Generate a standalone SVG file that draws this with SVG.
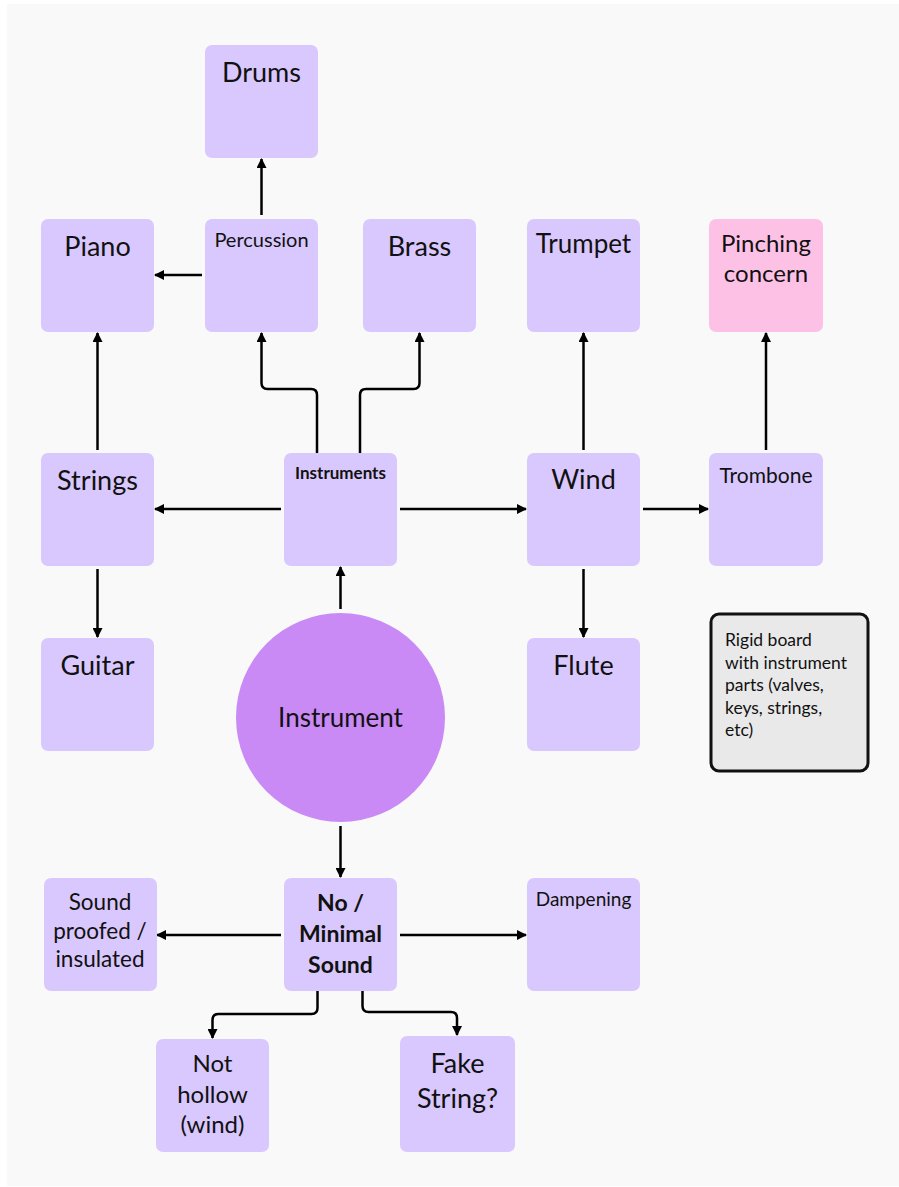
<svg xmlns="http://www.w3.org/2000/svg" width="899" height="1187" viewBox="0 0 899 1187">
  <defs>
    <marker id="arrow" viewBox="0 0 10 10" refX="9" refY="5" markerWidth="4" markerHeight="4" markerUnits="strokeWidth" orient="auto">
      <path d="M0,0 L10,5 L0,10 Z" fill="#000"/>
    </marker>
    <style>
      .box { fill: #d9c8fd; }
      .alert { fill: #fec1e6; }
      .hub { fill: #c98af6; }
      .note { fill: #e9e9e9; stroke: #111; stroke-width: 3; }
      .edge { fill: none; stroke: #000; stroke-width: 2.5; marker-end: url(#arrow); }
      text { font-family: "Lato", "Noto Sans", sans-serif; fill: #111; text-anchor: middle; }
      .lg { font-size: 27px; }
      .md { font-size: 24px; }
      .sm { font-size: 20px; }
      .b { font-weight: bold; }
      .nt { font-size: 17.5px; text-anchor: start; }
    </style>
  </defs>

  <rect x="0" y="0" width="899" height="1187" fill="#ffffff"/>
  <rect x="7" y="4" width="892" height="1182" fill="#f9f9f9"/>

  <g id="connectors">
    <line class="edge" x1="261.5" y1="215" x2="261.5" y2="159"/>
    <line class="edge" x1="202" y1="275" x2="155" y2="275"/>
    <line class="edge" x1="97.5" y1="450" x2="97.5" y2="333"/>
    <path class="edge" d="M317,453 V395 Q317,389 311,389 H267.5 Q261.5,389 261.5,383 V333"/>
    <path class="edge" d="M360,453 V395 Q360,389 366,389 H413.5 Q419.5,389 419.5,383 V333"/>
    <line class="edge" x1="281" y1="509" x2="155" y2="509"/>
    <line class="edge" x1="400" y1="509" x2="526" y2="509"/>
    <line class="edge" x1="583.5" y1="450" x2="583.5" y2="333"/>
    <line class="edge" x1="643" y1="509" x2="708" y2="509"/>
    <line class="edge" x1="766" y1="450" x2="766" y2="333"/>
    <line class="edge" x1="583.5" y1="569" x2="583.5" y2="637"/>
    <line class="edge" x1="97.5" y1="569" x2="97.5" y2="637"/>
    <line class="edge" x1="340.5" y1="609" x2="340.5" y2="567"/>
    <line class="edge" x1="340.5" y1="826" x2="340.5" y2="877"/>
    <line class="edge" x1="281" y1="935" x2="157" y2="935"/>
    <line class="edge" x1="400" y1="935" x2="526" y2="935"/>
    <path class="edge" d="M317.5,991 V1008 Q317.5,1014 311.5,1014 H218.5 Q212.5,1014 212.5,1020 V1038"/>
    <path class="edge" d="M362.5,991 V1006 Q362.5,1012 368.5,1012 H451 Q457,1012 457,1018 V1035"/>
  </g>

  <g id="drums">
    <rect class="box" x="205" y="45" width="113" height="113" rx="7"/>
    <text class="lg" x="261.5" y="82">Drums</text>
  </g>
  <g id="piano">
    <rect class="box" x="41" y="219" width="113" height="113" rx="7"/>
    <text class="lg" x="97.5" y="256">Piano</text>
  </g>
  <g id="percussion">
    <rect class="box" x="205" y="219" width="113" height="113" rx="7"/>
    <text class="sm" x="261.5" y="247">Percussion</text>
  </g>
  <g id="brass">
    <rect class="box" x="363" y="219" width="113" height="113" rx="7"/>
    <text class="lg" x="419.5" y="256">Brass</text>
  </g>
  <g id="trumpet">
    <rect class="box" x="527" y="219" width="113" height="113" rx="7"/>
    <text class="lg" x="583.5" y="253" style="font-size:26px">Trumpet</text>
  </g>
  <g id="pinching-concern">
    <rect class="alert" x="709" y="219" width="114" height="113" rx="7"/>
    <text class="md" x="766" y="252">Pinching</text>
    <text class="md" x="766" y="282">concern</text>
  </g>
  <g id="strings">
    <rect class="box" x="41" y="453" width="113" height="113" rx="7"/>
    <text class="lg" x="97.5" y="490">Strings</text>
  </g>
  <g id="instruments">
    <rect class="box" x="284" y="453" width="113" height="113" rx="7"/>
    <text class="b" x="340.5" y="479" style="font-size:17px">Instruments</text>
  </g>
  <g id="wind">
    <rect class="box" x="527" y="453" width="113" height="113" rx="7"/>
    <text class="lg" x="583.5" y="489">Wind</text>
  </g>
  <g id="trombone">
    <rect class="box" x="709" y="453" width="114" height="113" rx="7"/>
    <text class="sm" x="766" y="483" style="font-size:21px">Trombone</text>
  </g>
  <g id="guitar">
    <rect class="box" x="41" y="638" width="113" height="113" rx="7"/>
    <text class="lg" x="97.5" y="675">Guitar</text>
  </g>
  <g id="instrument">
    <circle class="hub" cx="340.5" cy="717.5" r="104.5"/>
    <text class="lg" x="340.5" y="727" style="font-size:26px">Instrument</text>
  </g>
  <g id="flute">
    <rect class="box" x="527" y="638" width="113" height="113" rx="7"/>
    <text class="lg" x="583.5" y="675">Flute</text>
  </g>
  <g id="rigid-board">
    <rect class="note" x="711" y="614" width="157" height="157" rx="8"/>
    <text class="nt" x="725" y="646">Rigid board</text>
    <text class="nt" x="725" y="668.5">with instrument</text>
    <text class="nt" x="725" y="691">parts (valves,</text>
    <text class="nt" x="725" y="713.5">keys, strings,</text>
    <text class="nt" x="725" y="736">etc)</text>
  </g>
  <g id="sound-proofed">
    <rect class="box" x="44" y="878" width="113" height="113" rx="7"/>
    <text x="100" y="910" style="font-size:22.5px">Sound</text>
    <text x="100" y="938.5" style="font-size:22.5px">proofed /</text>
    <text x="100" y="966.5" style="font-size:22.5px">insulated</text>
  </g>
  <g id="no-minimal-sound">
    <rect class="box" x="284" y="878" width="113" height="113" rx="7"/>
    <text class="b" x="340.5" y="911" style="font-size:23px">No /</text>
    <text class="b" x="340.5" y="942" style="font-size:23px">Minimal</text>
    <text class="b" x="340.5" y="972.5" style="font-size:23px">Sound</text>
  </g>
  <g id="dampening">
    <rect class="box" x="527" y="878" width="113" height="113" rx="7"/>
    <text class="sm" x="583.5" y="905.5" style="font-size:19px">Dampening</text>
  </g>
  <g id="not-hollow">
    <rect class="box" x="156" y="1039" width="113" height="113" rx="7"/>
    <text class="md" x="212.5" y="1072">Not</text>
    <text class="md" x="212.5" y="1103">hollow</text>
    <text class="md" x="212.5" y="1133">(wind)</text>
  </g>
  <g id="fake-string">
    <rect class="box" x="400" y="1036" width="115" height="116" rx="7"/>
    <text class="lg" x="457.5" y="1073">Fake</text>
    <text class="lg" x="457.5" y="1108">String?</text>
  </g>
</svg>
